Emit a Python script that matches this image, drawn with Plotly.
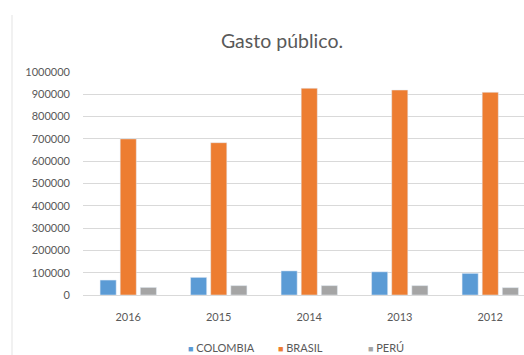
import plotly.graph_objects as go

# Public spending by country and year
years = ["2016", "2015", "2014", "2013", "2012"]
colombia = [67000, 79000, 108000, 104000, 97000]
brasil = [700000, 683000, 927000, 919000, 909000]
peru = [34000, 42000, 42000, 42000, 33000]

series = [("COLOMBIA", colombia, "#5B9BD5"),
          ("BRASIL", brasil, "#ED7D31"),
          ("PERÚ", peru, "#A5A5A5")]

y_ticks = list(range(0, 1000001, 100000))

FONT = "Lato"
TEXT = "#595959"

fig = go.Figure()
for name, vals, color in series:
    fig.add_trace(go.Bar(name=name, x=years, y=vals, marker_color=color))

W, H = 524, 355
L, R, T, B = 83, 0, 72, 60
plot_w = W - L - R
plot_h = H - T - B
cat_px = 90.5

# Compact legend: small coloured square followed by the series name
legend_left = [186, 276, 366]
annotations = []
for (name, _, color), px in zip(series, legend_left):
    annotations.append(dict(
        xref="paper", yref="paper",
        x=(px - L) / plot_w, xanchor="left",
        y=-(347 - (H - B)) / plot_h, yanchor="middle",
        showarrow=False,
        text=f'<span style="color:{color};font-size:9px">■</span> {name}',
        font=dict(family=FONT, size=11, color=TEXT),
    ))

fig.update_layout(
    width=W, height=H,
    margin=dict(l=L, r=R, t=T, b=B, pad=0),
    paper_bgcolor="white", plot_bgcolor="white",
    barmode="group", bargap=0.333, bargroupgap=0.2,
    font=dict(family=FONT, color=TEXT, size=11),
    title=dict(text="Gasto público.", x=282 / W, xanchor="center",
               y=1 - 41 / H, yanchor="middle",
               font=dict(family=FONT, size=19.5, color=TEXT)),
    showlegend=False,
    annotations=annotations,
    xaxis=dict(type="category", range=[-0.5, -0.5 + plot_w / cat_px],
               showgrid=False, showline=False, ticks="",
               ticklabelstandoff=14,
               tickfont=dict(size=11, color=TEXT)),
    yaxis=dict(range=[0, 1000000], tickvals=y_ticks,
               ticktext=[str(v) for v in y_ticks],
               showgrid=True, gridcolor="#D9D9D9", gridwidth=1,
               zeroline=True, zerolinecolor="#D9D9D9", zerolinewidth=1,
               showline=False, ticks="", ticklabelstandoff=12,
               tickfont=dict(size=11, color=TEXT)),
    shapes=[dict(type="line", xref="paper", yref="paper",
                 x0=(12 - L) / plot_w, x1=(12 - L) / plot_w,
                 y0=(H - B - 15) / plot_h, y1=-B / plot_h,
                 line=dict(color="#E3E3E3", width=1))],
)

fig.write_html("out.html")
